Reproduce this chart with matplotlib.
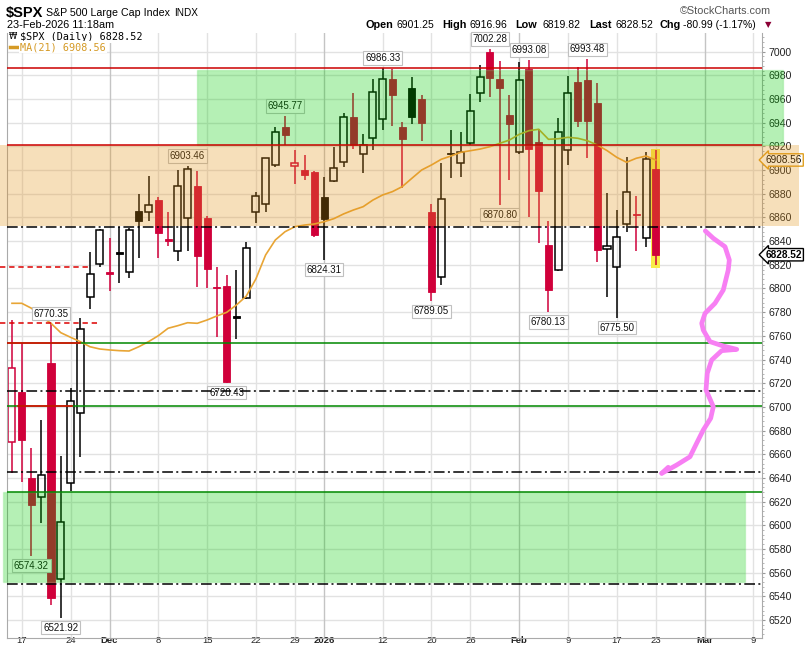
import matplotlib
matplotlib.use('Agg')
import matplotlib.pyplot as plt
from matplotlib.patches import Rectangle
from matplotlib.ticker import MultipleLocator
import matplotlib.transforms as mtransforms

# ---------------- data ----------------
opens = [6670.6, 6712.8, 6639.7, 6624.2, 6736.8, 6554.4, 6635.5, 6695.1, 6792.6, 6820.7,
         6813.5, 6830.5, 6814.2, 6865.5, 6864.9, 6874.7, 6841.5, 6831.9, 6859.8, 6886.6,
         6859.3, 6801.0, 6802.1, 6777.0, 6791.7, 6864.4, 6871.1, 6904.3, 6936.5, 6903.5,
         6900.1, 6898.6, 6877.5, 6891.0, 6907.1, 6944.6, 6913.3, 6926.9, 6942.9, 6976.7,
         6936.7, 6969.1, 6959.8, 6864.4, 6809.5, 6914.5, 6906.2, 6922.6, 6964.9, 7000.0,
         6976.9, 6946.6, 6915.5, 6985.1, 6923.4, 6836.7, 6815.6, 6917.0, 6974.7, 6976.1,
         6956.4, 6833.0, 6818.4, 6854.2, 6862.5, 6842.4, 6901.25]
highs = [6773.4, 6753.7, 6665.0, 6689.0, 6770.35, 6658.5, 6715.7, 6774.8, 6830.6, 6850.3,
         6842.4, 6852.2, 6851.4, 6879.6, 6895.3, 6877.5, 6864.9, 6900.1, 6903.46, 6899.5,
         6861.2, 6818.4, 6811.4, 6815.6, 6839.0, 6881.8, 6910.0, 6936.0, 6945.77, 6917.0,
         6912.8, 6899.5, 6894.4, 6919.8, 6948.5, 6964.9, 6930.2, 6976.7, 6986.33, 6985.1,
         6940.9, 6978.9, 6963.4, 6871.4, 6905.7, 6933.9, 6931.9, 6964.3, 6988.8, 7002.28,
         6992.1, 6963.4, 6991.6, 6993.08, 6934.5, 6857.0, 6943.7, 6979.7, 6986.8, 6993.48,
         6973.3, 6880.9, 6866.3, 6911.3, 6878.4, 6915.5, 6916.96]
lows = [6644.4, 6636.8, 6574.32, 6601.7, 6532.7, 6521.92, 6629.2, 6658.0, 6782.4, 6818.4,
        6797.9, 6804.9, 6809.1, 6826.0, 6857.0, 6826.0, 6835.9, 6823.5, 6831.9, 6801.0,
        6800.2, 6758.8, 6720.43, 6757.1, 6791.0, 6855.1, 6864.9, 6903.0, 6921.2, 6888.0,
        6891.6, 6843.2, 6824.31, 6890.2, 6902.9, 6917.8, 6897.8, 6917.0, 6933.9, 6937.5,
        6884.6, 6938.7, 6924.6, 6789.05, 6803.0, 6893.1, 6894.4, 6921.2, 6957.8, 6962.0,
        6870.80, 6891.6, 6913.3, 6860.6, 6838.2, 6780.13, 6815.0, 6904.3, 6936.7, 6910.5,
        6822.6, 6793.1, 6775.50, 6848.0, 6831.9, 6835.3, 6819.82]
closes = [6733.0, 6672.4, 6617.3, 6642.2, 6538.8, 6603.0, 6705.1, 6765.9, 6812.6, 6849.1,
          6812.6, 6829.4, 6849.7, 6857.1, 6870.4, 6846.5, 6840.5, 6886.7, 6901.0, 6827.4,
          6816.5, 6800.3, 6721.4, 6774.8, 6834.5, 6878.5, 6909.8, 6932.0, 6929.9, 6905.7,
          6896.2, 6845.5, 6858.5, 6902.1, 6944.8, 6920.9, 6921.5, 6966.3, 6977.3, 6963.7,
          6926.6, 6944.5, 6940.0, 6796.9, 6875.6, 6913.4, 6915.6, 6950.2, 6978.6, 6978.0,
          6969.0, 6939.0, 6976.4, 6917.8, 6882.7, 6798.4, 6932.3, 6964.8, 6941.8, 6941.5,
          6832.8, 6836.2, 6843.2, 6881.3, 6861.9, 6909.5, 6828.52]
ma21 = [6787.5, 6787.5, 6783.3, 6776.2, 6770.6, 6762.7, 6758.8, 6755.1, 6750.8, 6748.9,
        6748.1, 6747.5, 6747.2, 6750.8, 6755.1, 6760.1, 6766.4, 6768.6, 6771.1, 6770.6,
        6773.4, 6776.8, 6779.8, 6786.0, 6793.4, 6808.0, 6828.3, 6841.0, 6848.0, 6852.2,
        6853.6, 6854.5, 6856.4, 6859.0, 6863.0, 6866.3, 6869.1, 6874.7, 6879.0, 6881.8,
        6886.0, 6893.1, 6900.1, 6904.3, 6909.1, 6911.9, 6915.0, 6916.4, 6917.8, 6919.8,
        6922.6, 6925.4, 6930.2, 6933.3, 6934.5, 6926.0, 6926.5, 6927.7, 6926.9, 6924.8,
        6921.2, 6916.5, 6910.8, 6906.6, 6910.0, 6911.9, 6908.56]
prev_close = 6737.5  # close before the first candle

# x-axis ticks (trading-day index) and labels
tick_pos = [1, 6, 10, 15, 20, 25, 29, 32, 38, 43, 47, 52, 57, 62, 66, 71, 76]
tick_lab = ['17', '24', 'Dec', '8', '15', '22', '29', '2026', '12', '20', '26', 'Feb', '9', '17', '23', 'Mar', '9']
month_labels = ['Dec', '2026', 'Feb', 'Mar']
y_ticks = list(range(6520, 7001, 20))

# price-point labels
high_marks = [(4, 6770.35), (18, 6903.46), (28, 6945.77), (38, 6986.33), (49, 7002.28), (53, 6993.08), (59, 6993.48)]
low_marks = [(2, 6574.32), (5, 6521.92), (22, 6720.43), (32, 6824.31), (43, 6789.05), (50, 6870.80), (55, 6780.13), (62, 6775.50)]

# annotation levels
orange_zone = (6852.8, 6920.9)
upper_green_zone = (6920.9, 6984.5)
lower_green_zone = (6551.8, 6627.8)
red_lines = [6986.6, 6920.9]
dashdot_lines = [6851.7, 6713.3, 6644.8, 6550.4]
green_lines = [6753.7, 6700.5, 6627.9]
red_dashed = [(6818.4, 8.0), (6770.5, 8.8)]

# hand drawn pink path (trading-day index, price)
pink_x = [71.08, 71.90, 73.10, 73.54, 73.43, 72.92, 72.07, 71.05, 70.71, 70.87, 71.56, 72.92, 74.30,
          72.76, 71.73, 71.28, 71.15, 71.90, 71.63, 70.87, 70.19, 69.51, 68.14, 66.61]
pink_y = [6848.6, 6842.4, 6835.3, 6824.1, 6815.6, 6798.7, 6787.5, 6779.0, 6770.6, 6764.9, 6755.1, 6751.4, 6748.6,
          6747.5, 6739.6, 6728.4, 6714.3, 6700.2, 6690.4, 6680.5, 6669.3, 6657.9, 6650.9, 6643.9]
pink_hook_x = [66.61, 67.28]
pink_hook_y = [6643.9, 6649.0]

# ---------------- figure ----------------
W, H = 806, 647
fig = plt.figure(figsize=(W / 100, H / 100), dpi=100)
fig.patch.set_facecolor('white')
ax = fig.add_axes([7.3 / W, 9 / H, 754.4 / W, 605 / H])
ax.set_facecolor('white')
x0, x1 = -0.48, 76.86
ax.set_xlim(x0, x1)
ax.set_ylim(6504.8, 7015.8)

RED = '#d0003a'
BLACK = '#000000'

# grid
for yv in y_ticks:
    ax.axhline(yv, color='#e2e2e2', lw=1, zorder=0.5)
for p, l in zip(tick_pos, tick_lab):
    ax.axvline(p, color='#c4c4c4' if l in month_labels else '#e2e2e2', lw=1, zorder=0.5)

# highlight of the latest candle
last = len(closes) - 1
ax.add_patch(Rectangle((last - 0.47, lows[last] - 2.5), 0.94, highs[last] - lows[last] + 3,
                       facecolor='#f8ec48', edgecolor='none', zorder=1))

# candles
w = 0.72
for i in range(len(closes)):
    o, h, l, c = opens[i], highs[i], lows[i], closes[i]
    pc = prev_close if i == 0 else closes[i - 1]
    col = RED if c < pc else BLACK
    top, bot = max(o, c), min(o, c)
    hgt = max(top - bot, 1.2)
    if c > o:  # hollow
        ax.plot([i, i], [top, h], color=col, lw=1.1, zorder=2, solid_capstyle='butt')
        ax.plot([i, i], [l, bot], color=col, lw=1.1, zorder=2, solid_capstyle='butt')
        ax.add_patch(Rectangle((i - w / 2, bot), w, hgt, facecolor='none', edgecolor=col, lw=1.1, zorder=2))
    else:
        ax.plot([i, i], [l, h], color=col, lw=1.1, zorder=2, solid_capstyle='butt')
        ax.add_patch(Rectangle((i - w / 2, bot), w, hgt, facecolor=col, edgecolor=col, lw=0.6, zorder=2))

# moving average
ax.plot(range(len(ma21)), ma21, color='#e8a535', lw=1.2, zorder=2.5)

# high / low labels
lab_kw = dict(fontsize=7, family='Liberation Sans', ha='center', va='center', color='#111111', zorder=3,
              bbox=dict(boxstyle='square,pad=0.18', fc='white', ec='#c0c0c0', lw=0.8))
for i, v in high_marks:
    ax.annotate(f'{v:.2f}', (i, v), xytext=(0, 10), textcoords='offset pixels', **lab_kw)
for i, v in low_marks:
    ax.annotate(f'{v:.2f}', (i, v), xytext=(0, -10), textcoords='offset pixels', **lab_kw)

# right-edge value tags
trans = mtransforms.blended_transform_factory(ax.transAxes, ax.transData)
ax.text(1 + 4 / 754.4, ma21[-1], f'{ma21[-1]:.2f}', transform=trans, fontsize=7.2, family='Liberation Sans',
        ha='left', va='center', color='black', zorder=3.5, clip_on=False,
        bbox=dict(boxstyle='larrow,pad=0.12', fc='white', ec='#e0a020', lw=1))
ax.text(1 + 4 / 754.4, closes[-1], f'{closes[-1]:.2f}', transform=trans, fontsize=7.2, fontweight='bold',
        family='Liberation Sans', ha='left', va='center', color='black', zorder=10, clip_on=False,
        bbox=dict(boxstyle='larrow,pad=0.12', fc='white', ec='black', lw=1))

# zones (overlays)
ax.add_patch(Rectangle((-1.22, orange_zone[0]), 81.87, orange_zone[1] - orange_zone[0],
                       facecolor='#e29114', alpha=0.29, edgecolor='none', zorder=4, clip_on=False))
ax.add_patch(Rectangle((19.0, upper_green_zone[0]), 60.0, upper_green_zone[1] - upper_green_zone[0],
                       facecolor='#00cc00', alpha=0.29, edgecolor='#66dd66', lw=1, zorder=4, clip_on=False))
ax.add_patch(Rectangle((-0.92, lower_green_zone[0]), 76.07, lower_green_zone[1] - lower_green_zone[0],
                       facecolor='#00cc00', alpha=0.29, edgecolor='#77e077', lw=1, zorder=4, clip_on=False))

# horizontal levels
for yv in red_lines:
    ax.plot([x0, x1], [yv, yv], color='#cc0000', lw=1.1, zorder=5)
for yv in green_lines:
    ax.plot([x0, x1], [yv, yv], color='#008800', lw=1.1, zorder=5)
ax.plot([x0, 6.98], [green_lines[0]] * 2, color='#ee0000', lw=1.1, zorder=5.1)
ax.plot([0.62, 6.15], [green_lines[1]] * 2, color='#ee0000', lw=1.1, zorder=5.1)
for yv in dashdot_lines:
    ax.plot([x0, x1], [yv, yv], color='black', lw=1.1, ls=(0, (7, 2.2, 1.3, 2.2)), zorder=5)
for yv, xe in red_dashed:
    ax.plot([-1.22, xe], [yv, yv], color='#dd0000', lw=1.1, ls=(0, (3.5, 2.5)), zorder=5, clip_on=False)

# pink hand-drawn arrow
ax.plot(pink_x, pink_y, color='#f77ff3', lw=3.4, solid_capstyle='round', solid_joinstyle='round', zorder=6)
ax.plot(pink_hook_x, pink_hook_y, color='#f77ff3', lw=3.4, solid_capstyle='round', zorder=6)

# axes styling
for s in ['left', 'right', 'bottom']:
    ax.spines[s].set_color('#aaaaaa')
ax.spines['top'].set_visible(False)
ax.yaxis.tick_right()
ax.set_yticks(y_ticks)
ax.set_yticklabels([str(v) for v in y_ticks], family='Liberation Sans')
ax.yaxis.set_minor_locator(MultipleLocator(4))
ax.tick_params(axis='y', which='major', labelsize=7.6, pad=3, length=2, color='#999999', labelcolor='#222222')
ax.tick_params(axis='y', which='minor', length=1.5, color='#aaaaaa')
ax.set_xticks(tick_pos)
ax.set_xticklabels(tick_lab, family='Liberation Sans')
ax.tick_params(axis='x', labelsize=6.8, pad=-1.2, length=0, labelcolor='#222222')
for t in ax.get_xticklabels():
    if t.get_text() in month_labels:
        t.set_fontweight('bold')

# legend
fig.text(9 / W, 1 - 36.5 / H, '₩', fontsize=6, va='center', ha='left', color='black')
fig.text(20.5 / W, 1 - 36.5 / H, f'$SPX (Daily) {closes[-1]:.2f}', family='DejaVu Sans Mono', fontsize=7.3,
         va='center', ha='left', color='black',
         bbox=dict(boxstyle='square,pad=0.1', fc='white', ec='none'))
fig.text(20.5 / W, 1 - 47 / H, f'MA(21) {ma21[-1]:.2f}', family='DejaVu Sans Mono', fontsize=7.3,
         va='center', ha='left', color='#d59a25',
         bbox=dict(boxstyle='square,pad=0.1', fc='white', ec='none'))
fig.lines.append(plt.Line2D([10 / W, 18 / W], [1 - 47 / H, 1 - 47 / H], transform=fig.transFigure,
                            color='#d59a25', lw=2.5))

# header
def ft(x, y, s, **kw):
    fig.text(x / W, 1 - y / H, s, va='center', ha='left', **kw)

ft(6, 12.5, '$SPX', family='Liberation Sans', fontsize=10.5, fontweight='bold')
ft(45.5, 12.5, 'S&P 500 Large Cap Index', family='Liberation Sans', fontsize=7.7)
ft(174, 12.5, 'INDX', family='Liberation Sans', fontsize=7.2)
ft(7, 25, '23-Feb-2026 11:18am', family='Liberation Sans', fontsize=7.8)
ft(680, 11.5, '©StockCharts.com', family='Liberation Sans', fontsize=7.8, color='#555555')
hdr = [(365, 'Open', True), (396.5, '6901.25', False), (442, 'High', True), (469.5, '6916.96', False),
       (515, 'Low', True), (542.5, '6819.82', False), (589, 'Last', True), (615.5, '6828.52', False),
       (659, 'Chg', True), (683, '-80.99 (-1.17%)', False)]
for x, s, b in hdr:
    ft(x, 25, s, family='Liberation Sans', fontsize=7.8 if b else 7.5, fontweight='bold' if b else 'normal')
ft(765, 25, '▼', family='DejaVu Sans', fontsize=6, color='#8b0035')

fig.savefig('out.png', dpi=100)
